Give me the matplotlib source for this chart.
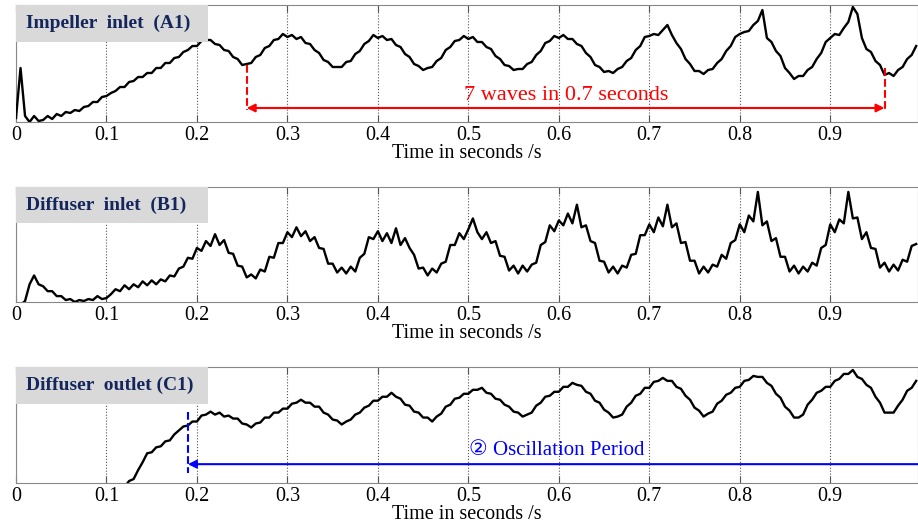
import numpy as np
import matplotlib
matplotlib.use('Agg')
import matplotlib.pyplot as plt
from matplotlib.patches import Rectangle

plt.rcParams['font.family'] = ['Liberation Serif', 'DejaVu Sans']

# sampled signals, heights in arbitrary units (0..117 visible), step dt seconds
dt = 0.005
t0_a1 = 0.0
a1 = [4, 54, 6, 0, 6, 1, 2, 6, 3, 8,
      6, 10, 9, 12, 11, 15, 16, 20, 20, 25,
      26, 29, 31, 35, 35, 40, 41, 45, 45, 49,
      49, 54, 54, 59, 59, 64, 65, 70, 72, 76,
      76, 81, 82, 82, 78, 77, 72, 71, 65, 63,
      57, 58, 59, 65, 67, 74, 76, 82, 83, 88,
      85, 87, 83, 85, 79, 78, 72, 69, 62, 60,
      55, 55, 55, 60, 61, 68, 71, 78, 81, 87,
      84, 86, 82, 83, 77, 75, 68, 65, 58, 56,
      52, 54, 55, 61, 64, 72, 75, 81, 82, 86,
      83, 85, 80, 80, 75, 73, 66, 63, 57, 56,
      52, 53, 53, 58, 60, 67, 71, 79, 81, 86,
      84, 87, 83, 83, 78, 76, 69, 65, 57, 55,
      50, 51, 49, 53, 55, 61, 64, 72, 76, 85,
      86, 88, 87, 92, 97, 87, 79, 73, 63, 58,
      51, 51, 48, 52, 53, 59, 63, 71, 76, 85,
      88, 90, 91, 97, 101, 112, 84, 80, 71, 66,
      54, 49, 43, 46, 46, 52, 55, 63, 69, 80,
      84, 88, 87, 94, 100, 115, 108, 84, 73, 70,
      61, 57, 47, 49, 46, 52, 55, 63, 67, 76]

t0_b1 = 0.0
b1 = [-5, -3, 1, 18, 27, 18, 16, 11, 11, 6,
      6, 2, 3, 0, 2, 1, 3, 2, 6, 3,
      4, 8, 13, 11, 17, 13, 18, 15, 21, 17,
      22, 18, 23, 21, 27, 26, 34, 36, 45, 44,
      55, 52, 62, 57, 69, 58, 63, 50, 49, 37,
      36, 25, 28, 24, 33, 31, 46, 45, 60, 60,
      71, 66, 76, 67, 72, 62, 66, 55, 54, 39,
      39, 30, 35, 29, 36, 31, 45, 49, 66, 64,
      72, 62, 70, 60, 75, 58, 65, 55, 48, 34,
      35, 27, 34, 30, 39, 41, 58, 58, 70, 64,
      74, 85, 71, 64, 71, 60, 62, 47, 46, 32,
      37, 29, 37, 31, 38, 40, 58, 61, 78, 72,
      83, 78, 90, 80, 99, 76, 78, 62, 60, 42,
      41, 30, 36, 29, 37, 35, 48, 49, 68, 68,
      79, 71, 86, 77, 99, 76, 80, 60, 61, 42,
      42, 29, 36, 30, 38, 36, 48, 44, 60, 63,
      79, 71, 88, 82, 112, 78, 82, 62, 65, 46,
      46, 31, 37, 29, 36, 31, 40, 37, 55, 58,
      79, 71, 84, 80, 112, 85, 86, 64, 71, 55,
      54, 35, 40, 31, 38, 32, 43, 41, 57, 59]

t0_c1 = 0.12
c1 = [-4, 2, 4, 13, 21, 30, 31, 36, 37, 42,
      43, 49, 53, 57, 58, 62, 62, 68, 69, 72,
      69, 71, 67, 68, 65, 65, 60, 59, 56, 60,
      61, 66, 66, 71, 71, 75, 75, 80, 81, 84,
      81, 81, 77, 77, 71, 69, 64, 63, 59, 62,
      64, 69, 71, 76, 78, 83, 83, 87, 87, 91,
      87, 85, 79, 78, 72, 71, 66, 66, 62, 67,
      70, 77, 79, 85, 86, 90, 90, 94, 94, 96,
      91, 90, 85, 84, 79, 77, 72, 71, 67, 69,
      71, 78, 81, 87, 88, 92, 92, 97, 97, 101,
      99, 98, 92, 90, 83, 81, 74, 71, 66, 67,
      69, 77, 81, 88, 90, 96, 96, 102, 103, 106,
      103, 103, 97, 95, 88, 84, 76, 73, 67, 70,
      72, 80, 83, 89, 91, 96, 97, 103, 104, 108,
      107, 107, 101, 98, 90, 86, 77, 73, 66, 66,
      69, 79, 84, 91, 93, 97, 97, 103, 105, 110,
      110, 114, 107, 105, 99, 96, 87, 81, 71, 71,
      71, 78, 84, 93, 96, 103]

titles = ['Impeller  inlet  (A1)', 'Diffuser  inlet  (B1)', 'Diffuser  outlet (C1)']
xticks = [0, 0.1, 0.2, 0.3, 0.4, 0.5, 0.6, 0.7, 0.8, 0.9]
xticklabels = ['0', '0.1', '0.2', '0.3', '0.4', '0.5', '0.6', '0.7', '0.8', '0.9']
xlabel = 'Time in seconds /s'

# annotations
red_start, red_end, red_y = 0.255, 0.960, 14
red_text = '7 waves in 0.7 seconds'
blue_start, blue_y = 0.19, 19
blue_text = '\u2461 Oscillation Period'

fig = plt.figure(figsize=(9.18, 5.30), dpi=100)
W, H = 918, 530
boxes = [(5, 122), (187, 302), (367, 483)]  # top, bottom px
series = [(t0_a1, a1), (t0_b1, b1), (t0_c1, c1)]
axs = []
for k, (top, bot) in enumerate(boxes):
    ax = fig.add_axes([16 / W, 1 - bot / H, (W - 16) / W, (bot - top) / H])
    t0, v = series[k]
    t = t0 + dt * np.arange(len(v))
    ax.plot(t, v, color='black', lw=1.7, zorder=3)
    ax.set_xlim(0, 0.997)
    ax.set_ylim(0, 117)
    ax.set_yticks([])
    ax.set_xticks(xticks)
    ax.set_xticklabels(xticklabels, fontsize=14.5)
    ax.tick_params(axis='x', direction='in', top=True, length=5, color='#555555', pad=3)
    ax.grid(axis='x', ls=':', color='#555555', lw=0.8)
    ax.set_xlabel(xlabel, fontsize=14.5, labelpad=-1)
    for s in ax.spines.values():
        s.set_color('#888888')
    ax.add_patch(Rectangle((0, 80), 0.212, 37, facecolor='#d9d9d9', edgecolor='none', zorder=5))
    ax.text(0.011, 98.5, titles[k], fontsize=14, fontweight='bold', color='#14265c', va='center', zorder=6)
    axs.append(ax)

ax = axs[0]
ax.plot([red_start, red_start], [57, red_y - 2], color='red', ls='--', lw=1.5, zorder=4)
ax.plot([red_end, red_end], [54, red_y - 2], color='red', ls='--', lw=1.5, zorder=4)
ax.annotate('', xy=(red_end, red_y), xytext=(red_start, red_y),
            arrowprops=dict(arrowstyle='<|-|>', color='red', lw=1.5, mutation_scale=12,
                            shrinkA=0, shrinkB=0), zorder=4)
ax.text(0.608, 27, red_text, color='red', fontsize=16, ha='center', va='center')

ax = axs[2]
ax.plot([blue_start, blue_start], [72, 10], color='blue', ls='--', lw=1.5, zorder=4)
ax.annotate('', xy=(blue_start, blue_y), xytext=(1.05, blue_y),
            arrowprops=dict(arrowstyle='-|>', color='blue', lw=1.5, mutation_scale=12,
                            shrinkA=0, shrinkB=0), zorder=4, annotation_clip=False)
ax.text(0.598, 33, blue_text, color='blue', fontsize=15, ha='center', va='center')

fig.savefig('out.png', dpi=100)
